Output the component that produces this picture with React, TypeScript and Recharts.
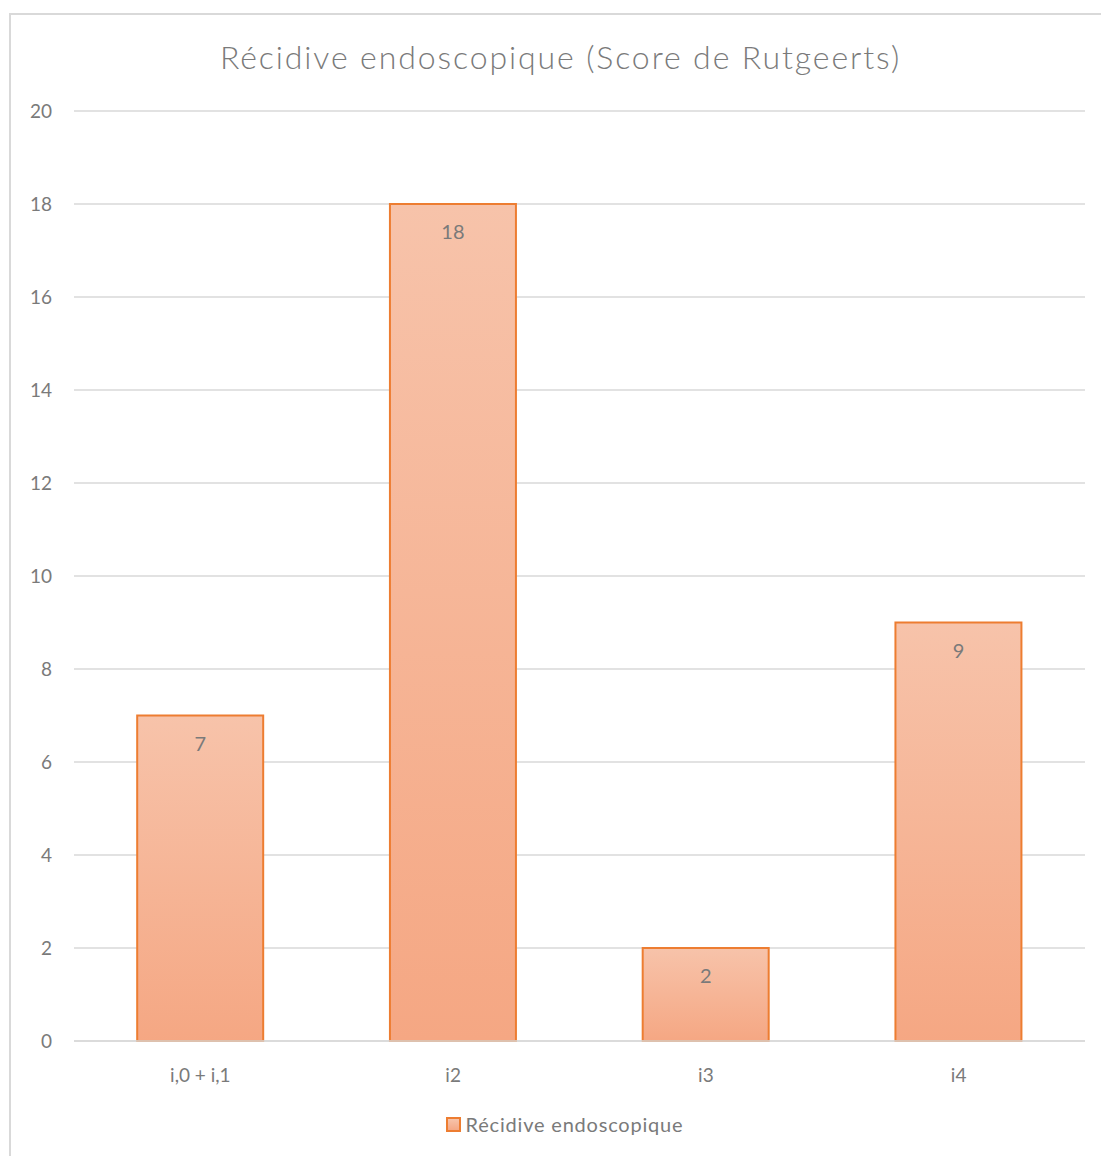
import { BarChart, Bar, XAxis, YAxis, CartesianGrid, LabelList, Legend } from "recharts";

const categories = ["i,0 + i,1", "i2", "i3", "i4"];
const recidive = [7, 18, 2, 9];
const yTicks = [0, 2, 4, 6, 8, 10, 12, 14, 16, 18, 20];

const seriesName = "Récidive endoscopique";
const title = "Récidive endoscopique (Score de Rutgeerts)";

const data = categories.map((cat, i) => ({ cat, value: recidive[i] }));

const FONT = "Lato, 'Open Sans', sans-serif";
const TEXT = "#7a7a7a";

function LegendBox() {
  return (
    <div
      style={{
        display: "flex",
        justifyContent: "center",
        alignItems: "center",
        fontFamily: FONT,
        fontSize: 20,
        color: TEXT,
        marginLeft: 30,
        letterSpacing: 0.8,
      }}
    >
      <span
        style={{
          display: "inline-block",
          width: 11,
          height: 11,
          border: "2px solid #ED7D31",
          background: "linear-gradient(#F7C3AA, #F4A886)",
          marginRight: 5,
        }}
      />
      <span>{seriesName}</span>
    </div>
  );
}

export default function App() {
  return (
    <div style={{ position: "absolute", left: 0, top: 0, width: 1101, height: 1156, background: "#fff", overflow: "hidden" }}>
      <div
        style={{
          position: "absolute",
          left: 9,
          top: 13,
          width: 1110,
          height: 1160,
          border: "2px solid #d9d9d9",
          boxSizing: "border-box",
        }}
      />
      <div
        style={{
          position: "absolute",
          top: 37,
          left: 0,
          width: 1121,
          textAlign: "center",
          fontFamily: FONT,
          fontSize: 32,
          fontWeight: 300,
          letterSpacing: 1.9,
          color: TEXT,
        }}
      >
        {title}
      </div>
      <div style={{ position: "absolute", left: 0, top: 0 }}>
        <BarChart
          width={1101}
          height={1156}
          data={data}
          margin={{ top: 111, right: 16, bottom: 45, left: 14 }}
          barCategoryGap="25%"
        >
          <defs>
            <linearGradient id="barFill" x1="0" y1="0" x2="0" y2="1">
              <stop offset="0%" stopColor="#F7C3AA" />
              <stop offset="100%" stopColor="#F5A783" />
            </linearGradient>
          </defs>
          <CartesianGrid vertical={false} stroke="#d9d9d9" strokeWidth={1.5} />
          <XAxis
            dataKey="cat"
            axisLine={{ stroke: "#d9d9d9", strokeWidth: 1.5 }}
            tickLine={false}
            tickSize={0}
            tickMargin={28}
            tick={{ fill: TEXT, fontSize: 19, fontFamily: FONT }}
          />
          <YAxis
            width={60}
            domain={[0, 20]}
            ticks={yTicks}
            axisLine={false}
            tickLine={false}
            tickSize={0}
            tickMargin={22}
            tick={{ fill: TEXT, fontSize: 19, fontFamily: FONT }}
          />
          <Legend verticalAlign="bottom" height={40} content={() => <LegendBox />} wrapperStyle={{ bottom: 4 }} />
          <Bar
            dataKey="value"
            name={seriesName}
            fill="url(#barFill)"
            stroke="#ED7D31"
            strokeWidth={2}
            isAnimationActive={false}
          >
            <LabelList
              dataKey="value"
              position="insideTop"
              offset={21}
              style={{ fill: TEXT, fontSize: 20, fontFamily: FONT }}
            />
          </Bar>
        </BarChart>
      </div>
    </div>
  );
}
